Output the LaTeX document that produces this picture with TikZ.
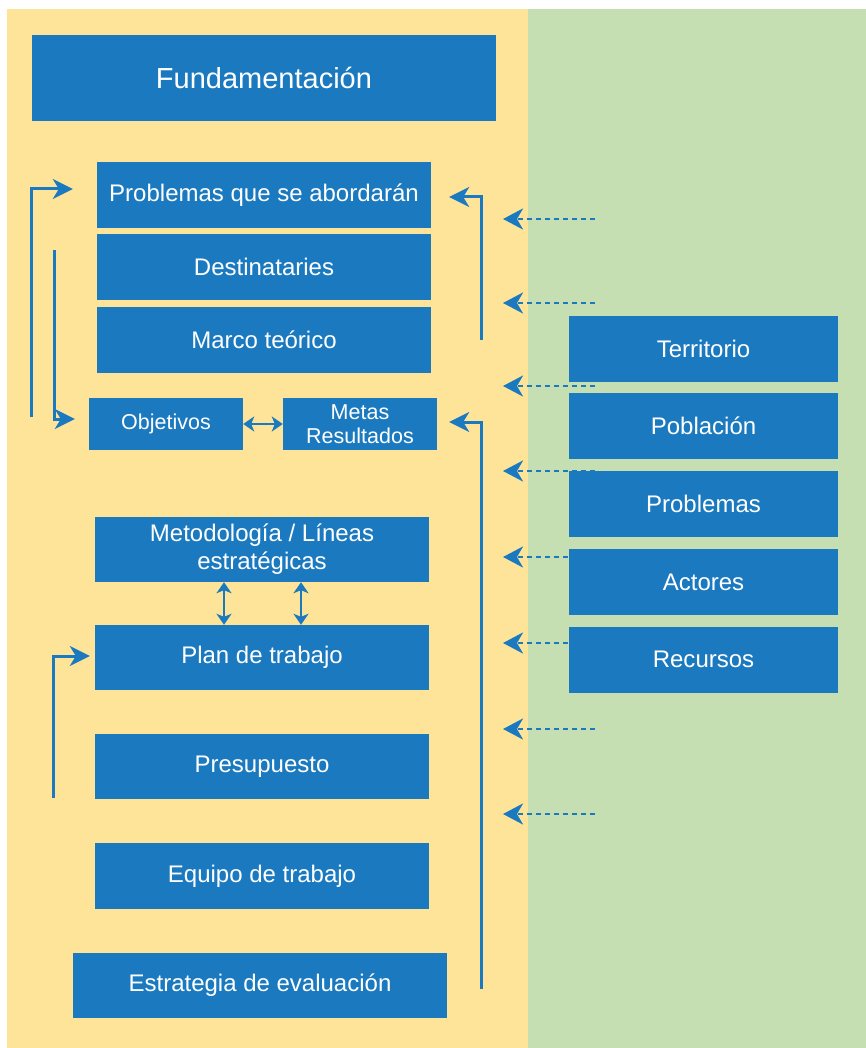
\documentclass[tikz,border=0pt]{standalone}
\usepackage{fontspec}
\setmainfont{Liberation Sans}
\usetikzlibrary{arrows.meta}
\definecolor{boxblue}{RGB}{27,122,191}
\definecolor{bgyellow}{RGB}{254,228,153}
\definecolor{bggreen}{RGB}{197,223,178}
\tikzset{
  bx/.style={fill=boxblue, text=white, inner sep=0pt, align=center,
    font=\fontsize{24}{28}\selectfont},
  arr/.style={boxblue, line width=3pt, -{Stealth[length=20pt,width=20pt,inset=6pt]}},
  darr/.style={boxblue, line width=2.6pt, dash pattern=on 5pt off 4pt,
    -{Stealth[length=20pt,width=21pt,inset=6pt]}},
  dbl/.style={boxblue, line width=2.6pt,
    {Stealth[length=11pt,width=15pt,inset=3pt]}-{Stealth[length=11pt,width=15pt,inset=3pt]}},
}
\begin{document}
\begin{tikzpicture}[x=1pt, y=-1pt]
          \useasboundingbox (0,0) rectangle (866,1048);
          \fill [bgyellow] (7,9) rectangle (528,1048);
          \fill [bggreen] (528,9) rectangle (866,1048);
          % dashed arrows from the right side
          \foreach \i/\y in {1/219, 2/303, 3/386, 4/471, 5/557, 6/643, 7/729, 8/814} {
            \coordinate (d\i) at (595,\y);
            \coordinate (e\i) at (503,\y);
            \draw [darr] (d\i) -- (e\i);
          }
          % left column
          \node [bx, minimum width=464pt, minimum height=86pt, font=\fontsize{29}{32}\selectfont] (fund) at (264,78) {Fundamentación};
          \node [bx, minimum width=334pt, minimum height=66pt] (prob) at (264,195) {Problemas que se abordarán};
          \node [bx, minimum width=334pt, minimum height=66pt] (dest) at (264,267) {Destinataries};
          \node [bx, minimum width=334pt, minimum height=66pt] (marco) at (264,340) {Marco teórico};
          \node [bx, minimum width=154pt, minimum height=52pt, font=\fontsize{21.5}{24}\selectfont] (obj) at (166,424) {Objetivos};
          \node [bx, minimum width=154pt, minimum height=52pt, font=\fontsize{21.5}{24}\selectfont] (metas) at (360,424) {Metas\\Resultados};
          \node [bx, minimum width=334pt, minimum height=65pt] (meto) at (262,549.5) {Metodología / Líneas\\estratégicas};
          \node [bx, minimum width=334pt, minimum height=65pt] (plan) at (262,657.5) {Plan de trabajo};
          \node [bx, minimum width=334pt, minimum height=65pt] (presu) at (262,766.5) {Presupuesto};
          \node [bx, minimum width=334pt, minimum height=66pt] (equipo) at (262,876) {Equipo de trabajo};
          \node [bx, minimum width=374pt, minimum height=65pt] (estr) at (260,985.5) {Estrategia de evaluación};
          % right column
          \node [bx, minimum width=269pt, minimum height=66pt] (terr) at (703.5,348.5) {Territorio};
          \node [bx, minimum width=269pt, minimum height=66pt] (pobl) at (703.5,426) {Población};
          \node [bx, minimum width=269pt, minimum height=66pt] (probl) at (703.5,504) {Problemas};
          \node [bx, minimum width=269pt, minimum height=66pt] (act) at (703.5,582) {Actores};
          \node [bx, minimum width=269pt, minimum height=66pt] (rec) at (703.5,659.5) {Recursos};
          % connectors
          \coordinate (a0) at (31,417);
          \coordinate (b0) at (54,250);
          \coordinate (c0) at (481,340);
          \coordinate (f0) at (481,989);
          \coordinate (g0) at (53,798);
          \draw [arr] (a0) |- ([xshift=-24pt,yshift=6pt]prob.west);
          \draw [arr] (b0) |- ([xshift=-14pt,yshift=5pt]obj.west);
          \draw [arr] (c0) |- ([xshift=18pt,yshift=-2pt]prob.east);
          \draw [arr] (f0) |- ([xshift=12pt,yshift=2pt]metas.east);
          \draw [arr] (g0) |- ([xshift=-5pt,yshift=1.5pt]plan.west);
          \draw [dbl] (obj) -- (metas);
          \draw [dbl] ([xshift=-38pt]meto.south) -- ([xshift=-38pt]plan.north);
          \draw [dbl] ([xshift=39pt]meto.south) -- ([xshift=39pt]plan.north);
      \end{tikzpicture}
\end{document}
